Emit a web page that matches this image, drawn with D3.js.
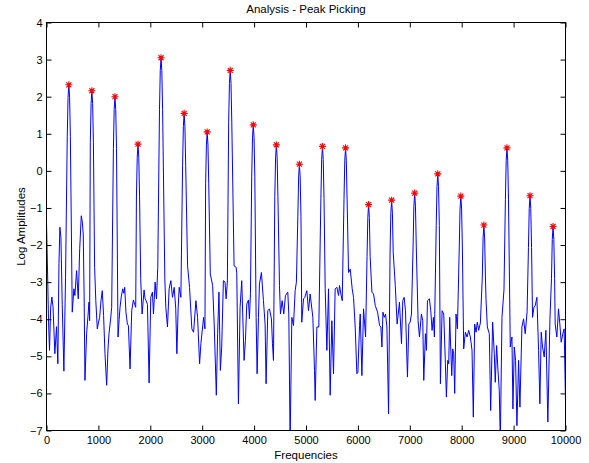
<!DOCTYPE html>
<html>
<head>
<meta charset="utf-8">
<script src="https://cdn.jsdelivr.net/npm/d3@7"></script>
<style>
  html, body { margin: 0; padding: 0; background: #fff; }
  svg { display: block; }
  text { font-family: "Liberation Sans", Arial, Helvetica, sans-serif; fill: #000; }
</style>
</head>
<body>
<div id="chart"></div>
<script>
// ---- data ----
const chartTitle = "Analysis - Peak Picking";
const xLabel = "Frequencies";
const yLabel = "Log Amplitudes";
const xTicks = [0, 1000, 2000, 3000, 4000, 5000, 6000, 7000, 8000, 9000, 10000];
const yTicks = [-7, -6, -5, -4, -3, -2, -1, 0, 1, 2, 3, 4];

// picked peaks (Hz, log amplitude)
const peakHz = [430, 874, 1319, 1763, 2207, 2652, 3096, 3540, 3984, 4429, 4873,
                5317, 5762, 6206, 6650, 7094, 7539, 7983, 8427, 8872, 9316, 9760];
const peakLogAmp = [2.32, 2.16, 2.0, 0.72, 3.05, 1.55, 1.05, 2.71, 1.24, 0.70, 0.18,
                    0.66, 0.62, -0.91, -0.79, -0.6, -0.08, -0.68, -1.46, 0.62, -0.67, -1.5];

// log-amplitude spectrum (Hz, log amplitude)
const spectrum = [
[0,-1.40],[20,-2.7],[40,-4.1],[58,-4.84],[80,-3.7],[103,-3.40],[125,-3.65],[161,-4.93],[193,-4.20],[219,-5.20],[240,-2.5],[258,-1.52],[278,-1.8],[303,-3.6],[335,-5.40],[367,-2.87],
[400,0.92],[415,1.97],[430,2.32],[445,1.97],[460,0.92],
[496,-3.81],[528,-3.18],[547,-3.36],[580,-2.69],[612,-3.45],[640,-2.1],[670,-1.21],[690,-1.38],[708,-1.70],[725,-3.4],[741,-5.65],[773,-4.39],[800,-3.9],[818,-3.54],[831,-4.04],
[844,0.76],[859,1.81],[874,2.16],[889,1.81],[904,0.76],
[927,-2.60],[950,-3.5],[979,-4.26],[1000,-4.1],[1024,-3.95],[1050,-3.5],[1075,-3.23],[1100,-3.9],[1127,-4.93],[1159,-5.78],[1185,-4.8],[1204,-4.39],[1236,-3.99],[1256,-3.68],
[1289,0.6],[1304,1.65],[1319,2.0],[1334,1.65],[1349,0.6],
[1378,-4.48],[1400,-4.0],[1417,-3.68],[1440,-3.4],[1468,-3.18],[1490,-3.3],[1507,-3.14],[1530,-3.8],[1558,-4.13],[1578,-4.17],[1610,-5.34],[1642,-3.77],[1674,-3.48],[1700,-3.6],[1719,-3.68],
[1733,-0.68],[1748,0.37],[1763,0.72],[1778,0.37],[1793,-0.68],
[1815,-2.9],[1842,-3.86],[1880,-3.21],[1900,-3.45],[1919,-3.50],[1945,-3.6],[1977,-5.72],[2009,-3.41],[2041,-3.27],[2061,-3.86],[2093,-3.0],[2119,-3.45],[2144,-2.6],
[2177,1.65],[2192,2.7],[2207,3.05],[2222,2.7],[2237,1.65],
[2280,-2.91],[2299,-3.68],[2331,-4.21],[2363,-3.18],[2396,-2.96],[2428,-3.41],[2460,-3.14],[2490,-3.7],[2512,-4.93],[2537,-3.68],[2557,-3.14],[2589,-3.41],
[2622,0.15],[2637,1.2],[2652,1.55],[2667,1.2],[2682,0.15],
[2718,-2.56],[2756,-3.14],[2801,-4.26],[2834,-4.35],[2879,-3.50],[2911,-3.95],[2950,-5.20],[2975,-4.66],[3027,-3.95],[3053,-4.26],
[3066,-0.35],[3081,0.7],[3096,1.05],[3111,0.7],[3126,-0.35],
[3156,-2.78],[3201,-3.09],[3233,-4.21],[3272,-6.05],[3297,-4.39],[3323,-3.27],[3350,-5.38],[3376,-4.75],[3408,-2.96],[3440,-3.0],[3460,-3.45],[3485,-3.0],
[3510,1.31],[3525,2.36],[3540,2.71],[3555,2.36],[3570,1.31],
[3614,-2.56],[3653,-2.6],[3666,-2.75],[3698,-6.28],[3730,-3.68],[3762,-2.96],[3807,-5.11],[3833,-4.57],[3859,-3.59],[3891,-3.48],[3910,-3.99],[3930,-3.3],
[3954,-0.16],[3969,0.89],[3984,1.24],[3999,0.89],[4014,-0.16],
[4039,-3.95],[4058,-5.47],[4084,-3.95],[4103,-3.05],[4141,-2.74],[4180,-3.50],[4212,-4.13],[4231,-5.74],[4264,-3.77],[4296,-3.72],[4334,-3.99],[4354,-4.66],[4373,-5.11],
[4399,-0.7],[4414,0.35],[4429,0.70],[4444,0.35],[4459,-0.7],
[4489,-3.09],[4508,-3.86],[4540,-3.50],[4572,-3.86],[4604,-3.36],[4649,-3.27],[4669,-3.86],[4694,-7.3],[4727,-3.95],[4759,-4.17],[4791,-3.23],[4815,-3.0],
[4843,-1.22],[4858,-0.17],[4873,0.18],[4888,-0.17],[4903,-1.22],
[4919,-4.08],[4952,-3.45],[4977,-3.41],[5016,-3.23],[5048,-3.77],[5080,-3.32],[5132,-3.95],[5164,-5.38],[5177,-6.19],[5209,-4.21],[5247,-4.21],
[5287,-0.74],[5302,0.31],[5317,0.66],[5332,0.31],[5347,-0.74],
[5370,-3.18],[5402,-4.84],[5434,-3.18],[5466,-6.05],[5498,-4.04],[5530,-5.47],[5562,-3.18],[5595,-3.14],[5627,-3.36],[5646,-3.09],[5672,-3.32],[5698,-3.5],
[5732,-0.78],[5747,0.27],[5762,0.62],[5777,0.27],[5792,-0.78],
[5820,-2.74],[5852,-2.65],[5890,-3.18],[5916,-3.41],[5948,-4.21],[5980,-5.47],[6000,-5.43],[6032,-4.17],[6045,-3.86],[6077,-5.52],[6109,-3.72],[6148,-4.48],
[6176,-2.31],[6191,-1.26],[6206,-0.91],[6221,-1.26],[6236,-2.31],
[6270,-3.27],[6302,-3.32],[6334,-3.63],[6379,-3.81],[6418,-4.17],[6443,-4.21],[6463,-4.75],[6482,-3.81],[6508,-3.95],[6533,-3.86],[6559,-4.21],[6591,-6.55],
[6620,-2.19],[6635,-1.14],[6650,-0.79],[6665,-1.14],[6680,-2.19],
[6720,-3.09],[6756,-4.13],[6801,-3.54],[6840,-4.66],[6865,-3.5],[6891,-3.41],[6917,-3.77],[6955,-5.56],[6981,-4.13],[7006,-4.08],[7032,-3.86],
[7064,-2.0],[7079,-0.95],[7094,-0.6],[7109,-0.95],[7124,-2.0],
[7160,-4.04],[7186,-4.48],[7224,-3.86],[7250,-4.04],[7269,-5.65],[7301,-4.39],[7321,-4.84],[7340,-3.5],[7378,-3.45],[7404,-3.77],[7429,-4.3],[7455,-3.95],[7474,-4.48],
[7509,-1.48],[7524,-0.43],[7539,-0.08],[7554,-0.43],[7569,-1.48],
[7590,-5.74],[7622,-3.77],[7654,-3.86],[7686,-5.2],[7705,-6.1],[7731,-5.11],[7750,-5.2],[7769,-3.95],[7788,-4.75],[7808,-5.52],[7827,-4.8],[7846,-4.93],[7865,-6.0],[7891,-3.86],[7917,-4.26],
[7953,-2.08],[7968,-1.03],[7983,-0.68],[7998,-1.03],[8013,-2.08],
[8038,-4.8],[8071,-4.35],[8103,-4.48],[8135,-4.3],[8167,-4.48],[8199,-4.84],[8224,-6.64],[8250,-4.13],[8276,-4.35],[8301,-4.08],[8327,-4.3],[8360,-4.1],
[8397,-2.86],[8412,-1.81],[8427,-1.46],[8442,-1.81],[8457,-2.86],
[8468,-3.45],[8494,-4.21],[8532,-4.39],[8558,-6.46],[8596,-4.08],[8628,-4.93],[8647,-5.7],[8673,-4.71],[8699,-5.38],[8724,-5.92],[8744,-7.3],[8776,-3.95],[8815,-3.2],
[8842,-0.78],[8857,0.27],[8872,0.62],[8887,0.27],[8902,-0.78],
[8936,-4.75],[8968,-4.48],[8987,-6.42],[9013,-4.75],[9038,-5.11],[9064,-6.87],[9096,-5.11],[9122,-6.37],[9160,-4.21],[9192,-3.99],[9224,-4.39],[9260,-3.8],
[9286,-2.07],[9301,-1.02],[9316,-0.67],[9331,-1.02],[9346,-2.07],
[9365,-3.95],[9391,-3.68],[9417,-3.63],[9449,-3.41],[9481,-4.84],[9506,-6.28],[9532,-4.35],[9558,-4.75],[9590,-5.02],[9622,-4.3],[9660,-6.77],[9700,-4.0],
[9730,-2.9],[9745,-1.85],[9760,-1.5],[9775,-1.85],[9790,-2.9],
[9801,-4.13],[9833,-4.48],[9865,-3.72],[9891,-4.13],[9917,-4.62],[9949,-4.39],[9974,-4.26],[10000,-6.2]
];

// ---- drawing ----
const W = 589, H = 463;
const L = 46.5, R = 565.5, T = 22.5, B = 430.5;

const svg = d3.select("#chart").append("svg")
  .attr("width", W).attr("height", H)
  .style("background", "#fff");

const x = d3.scaleLinear().domain([0, 10000]).range([L, R]);
const y = d3.scaleLinear().domain([-7, 4]).range([B, T]);

svg.append("defs").append("clipPath").attr("id", "plotclip")
  .append("rect").attr("x", L).attr("y", T).attr("width", R - L).attr("height", B - T);

// line
svg.append("path")
  .datum(spectrum)
  .attr("clip-path", "url(#plotclip)")
  .attr("fill", "none")
  .attr("stroke", "#0000ff")
  .attr("stroke-width", 1)
  .attr("stroke-linejoin", "round")
  .attr("d", d3.line().x(d => x(d[0])).y(d => y(d[1])));

// peak markers
const star = "M-3.5,0H3.5M0,-3.5V3.5M-2.5,-2.5L2.5,2.5M-2.5,2.5L2.5,-2.5";
svg.append("g").selectAll("path")
  .data(peakHz.map((f, i) => [f, peakLogAmp[i]]))
  .join("path")
  .attr("transform", d => `translate(${x(d[0])},${y(d[1])})`)
  .attr("d", star)
  .attr("fill", "none")
  .attr("stroke", "#ff0000")
  .attr("stroke-width", 1.1);

// axes
const fmt = d3.format("d");
function styleAxis(g) {
  g.select(".domain").remove();
  g.selectAll(".tick line").attr("stroke", "#000");
  g.selectAll(".tick text").attr("font-size", 11).attr("font-family", "Liberation Sans, Arial, sans-serif").attr("fill", "#000");
}
svg.append("g").attr("transform", `translate(0,${B})`)
  .call(d3.axisBottom(x).tickValues(xTicks).tickFormat(fmt).tickSize(-5).tickPadding(6))
  .call(styleAxis);
svg.append("g").attr("transform", `translate(0,${T})`)
  .call(d3.axisTop(x).tickValues(xTicks).tickFormat("").tickSize(-5))
  .call(styleAxis);
svg.append("g").attr("transform", `translate(${L},0)`)
  .call(d3.axisLeft(y).tickValues(yTicks).tickFormat(fmt).tickSize(-5).tickPadding(4))
  .call(styleAxis);
svg.append("g").attr("transform", `translate(${R},0)`)
  .call(d3.axisRight(y).tickValues(yTicks).tickFormat("").tickSize(-5))
  .call(styleAxis);

// frame
svg.append("rect")
  .attr("x", L).attr("y", T).attr("width", R - L).attr("height", B - T)
  .attr("fill", "none").attr("stroke", "#000").attr("stroke-width", 1);

// titles
svg.append("text").attr("x", (L + R) / 2).attr("y", 12.5)
  .attr("text-anchor", "middle").attr("font-size", 11.5).text(chartTitle);
svg.append("text").attr("x", (L + R) / 2).attr("y", 458.5)
  .attr("text-anchor", "middle").attr("font-size", 11.5).text(xLabel);
svg.append("text")
  .attr("transform", `translate(25,${(T + B) / 2}) rotate(-90)`)
  .attr("text-anchor", "middle").attr("font-size", 11.5).text(yLabel);
</script>
</body>
</html>
